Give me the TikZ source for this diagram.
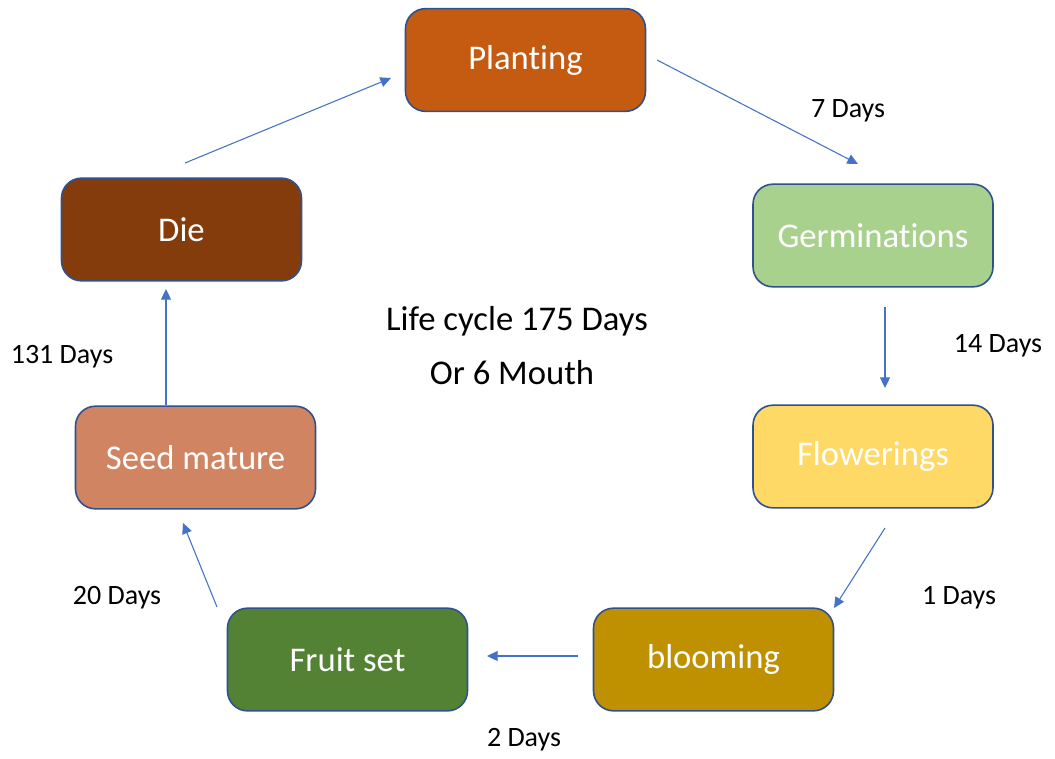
\documentclass[tikz,border=0pt]{standalone}
\usepackage{fontspec}
\setmainfont{Carlito}[Ligatures={NoCommon,NoContextual},RawFeature={-liga;-calt;-clig}]
\usetikzlibrary{arrows.meta}
\definecolor{cPlant}{HTML}{C55A11}
\definecolor{cGerm}{HTML}{A9D18E}
\definecolor{cFlow}{HTML}{FFD966}
\definecolor{cBloom}{HTML}{BF9000}
\definecolor{cFruit}{HTML}{548235}
\definecolor{cSeed}{HTML}{D08462}
\definecolor{cDie}{HTML}{843C0C}
\definecolor{cBorder}{HTML}{2F528F}
\definecolor{cArrow}{HTML}{4472C4}
\tikzset{
  stagebox/.style={draw=cBorder, line width=1.2pt, rounded corners=15pt,
    minimum width=180pt, minimum height=77pt, text=white,
    font=\fontsize{26}{30}\selectfont, inner sep=0pt},
  daylabel/.style={font=\fontsize{21}{25}\selectfont, text=black, inner sep=0pt},
  flowarrow/.style={draw=cArrow, line width=0.8pt, -{Triangle[length=8pt,width=7.5pt]}}
}
\begin{document}
\begin{tikzpicture}[x=0.75pt,y=-0.75pt]
\useasboundingbox (0,0) rectangle (1055,758);
% stages
\node[stagebox, fill=cPlant] (plant) at (525.5,60) {Planting};
\node[stagebox, fill=cGerm] (germ) at (873,235.5) {Germinations};
\node[stagebox, fill=cFlow] (flow) at (873,456.5) {Flowerings};
\node[stagebox, fill=cBloom] (bloom) at (713.5,659.5) {blooming};
\node[stagebox, fill=cFruit] (fruit) at (347.5,659.5) {Fruit set};
\node[stagebox, fill=cSeed] (seed) at (195.5,457.5) {Seed mature};
\node[stagebox, fill=cDie] (die) at (181.5,229.5) {Die};
% arrow endpoints
\coordinate (a1s) at (185,163); \coordinate (a1e) at (391,78);
\coordinate (a2s) at (657,60);  \coordinate (a2e) at (858,164);
\coordinate (a3s) at (885,307); \coordinate (a3e) at (885,388);
\coordinate (a4s) at (885,528); \coordinate (a4e) at (834,608);
\coordinate (a5s) at (578,656); \coordinate (a5e) at (487,656);
\coordinate (a6s) at (217,607); \coordinate (a6e) at (183,523);
\coordinate (a7e) at (166,289);
% arrows
\draw[flowarrow] (a1s) -- (a1e);
\draw[flowarrow] (a2s) -- (a2e);
\draw[flowarrow] (a3s) -- (a3e);
\draw[flowarrow] (a4s) -- (a4e);
\draw[flowarrow] (a5s) -- (a5e);
\draw[flowarrow] (a6s) -- (a6e);
\draw[flowarrow] (seed.north -| a7e) -- (a7e);
% labels
\node[daylabel] (l1) at (848,111) {7 Days};
\node[daylabel] (l2) at (998,346) {14 Days};
\node[daylabel] (l3) at (959,598) {1 Days};
\node[daylabel] (l4) at (524,740) {2 Days};
\node[daylabel] (l5) at (117,598) {20 Days};
\node[daylabel] (l6) at (62,357) {131 Days};
\node[font=\fontsize{26}{30}\selectfont, inner sep=0pt] (c1) at (517,321) {Life cycle 175 Days};
\node[font=\fontsize{26}{30}\selectfont, inner sep=0pt] (c2) at (512,373) {Or 6 Mouth};
\end{tikzpicture}
\end{document}
